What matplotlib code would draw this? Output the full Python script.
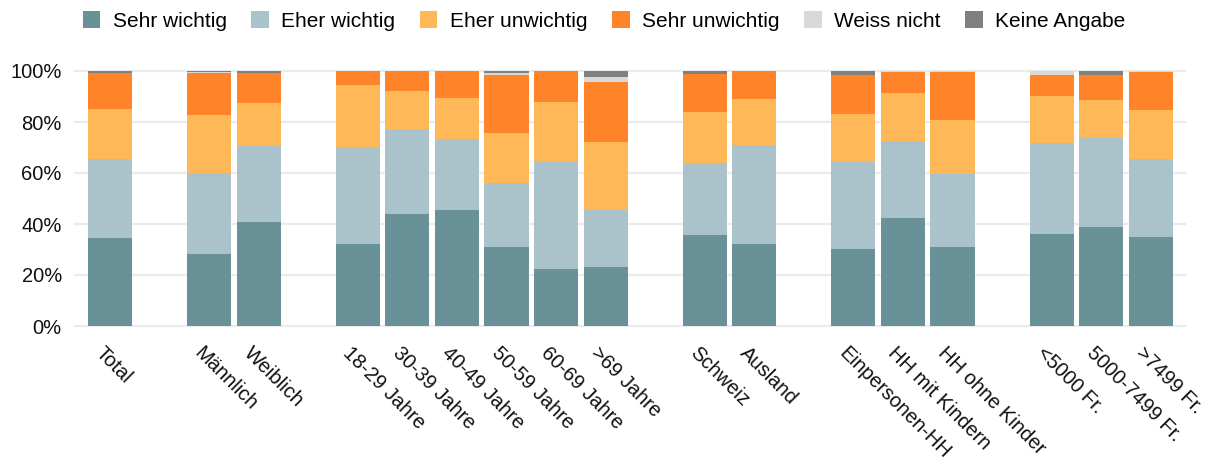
import matplotlib
matplotlib.use("Agg")
import matplotlib.pyplot as plt
from matplotlib.transforms import ScaledTranslation
from matplotlib.ticker import FuncFormatter

plt.rcParams['font.family'] = ['Liberation Sans', 'DejaVu Sans']

categories = ["Total", "Männlich", "Weiblich", "18-29 Jahre", "30-39 Jahre", "40-49 Jahre",
              "50-59 Jahre", "60-69 Jahre", ">69 Jahre", "Schweiz", "Ausland",
              "Einpersonen-HH", "HH mit Kindern", "HH ohne Kinder",
              "<5000 Fr.", "5000-7499 Fr.", ">7499 Fr."]
group_sizes = [1, 2, 6, 2, 3, 3]

sehr_wichtig = [34.6, 28.1, 40.9, 32.3, 43.8, 45.5, 31.0, 22.4, 23.0, 35.7, 32.2, 30.3, 42.4, 30.8, 36.1, 38.7, 35.0]
eher_wichtig = [30.8, 31.8, 29.8, 37.9, 33.5, 27.8, 25.1, 41.8, 22.6, 28.2, 38.8, 34.1, 30.1, 28.8, 35.8, 35.2, 30.5]
eher_unwichtig = [19.6, 22.7, 16.6, 24.3, 15.0, 16.2, 19.6, 23.8, 26.6, 20.0, 18.0, 18.9, 18.9, 21.1, 18.4, 14.6, 19.3]
sehr_unwichtig = [14.1, 16.5, 11.8, 5.5, 7.7, 10.5, 22.9, 12.0, 23.6, 14.9, 11.0, 15.3, 8.1, 18.8, 8.3, 9.9, 14.7]
weiss_nicht = [0.0, 0.5, 0.0, 0.0, 0.0, 0.0, 0.6, 0.0, 2.0, 0.0, 0.0, 0.0, 0.5, 0.5, 1.4, 0.0, 0.5]
keine_angabe = [0.9, 0.5, 0.9, 0.0, 0.0, 0.0, 0.8, 0.0, 2.2, 1.2, 0.0, 1.4, 0.0, 0.0, 0.0, 1.6, 0.0]

series_names = ["Sehr wichtig", "Eher wichtig", "Eher unwichtig", "Sehr unwichtig", "Weiss nicht", "Keine Angabe"]
series = [sehr_wichtig, eher_wichtig, eher_unwichtig, sehr_unwichtig, weiss_nicht, keine_angabe]
colors = ["#699198", "#aac3ca", "#ffb857", "#ff8429", "#d9d9d9", "#808080"]

# positions with a one-slot gap between groups
positions = []
p = 0
for g in group_sizes:
    for i in range(g):
        positions.append(p)
        p += 1
    p += 1

fig = plt.figure(figsize=(12.08, 4.65), dpi=100)
ax = fig.add_axes([75/1208, 1-326/465, (1185-75)/1208, (326-71)/465])

bottom = [0.0]*len(categories)
handles = []
for name, vals, col in zip(series_names, series, colors):
    h = ax.bar(positions, vals, bottom=bottom, width=0.89, color=col, label=name, zorder=2)
    handles.append(h)
    bottom = [b+v for b, v in zip(bottom, vals)]

ax.set_xlim(-0.706, 21.69)
ax.set_ylim(0, 100)
ax.set_yticks([0, 20, 40, 60, 80, 100])
ax.yaxis.set_major_formatter(FuncFormatter(lambda v, _: f"{int(v)}%"))
ax.grid(axis='y', color='#ebebeb', linewidth=1.6, zorder=0)
ax.set_axisbelow(True)
for gl in ax.get_ygridlines():
    gl.set_clip_on(False)
for s in ax.spines.values():
    s.set_visible(False)
ax.tick_params(axis='y', length=0, pad=9.5, labelsize=14.5, labelcolor='#111111')
ax.tick_params(axis='x', length=0, pad=12.5, labelsize=14.5, labelcolor='#111111')

ax.set_xticks(positions)
ax.set_xticklabels(categories, rotation=-45, ha='left', va='top', rotation_mode='anchor')
off = ScaledTranslation(-5/100, 0, fig.dpi_scale_trans)
for lab in ax.get_xticklabels():
    lab.set_transform(lab.get_transform() + off)

fig.legend(handles=handles, labels=series_names, loc='center', bbox_to_anchor=(0.5, 1-21/465),
           ncol=6, frameon=False, fontsize=15, handlelength=0.85, handleheight=0.85,
           handletextpad=0.6, columnspacing=1.17, borderpad=0)

fig.savefig("out.png", dpi=100)
